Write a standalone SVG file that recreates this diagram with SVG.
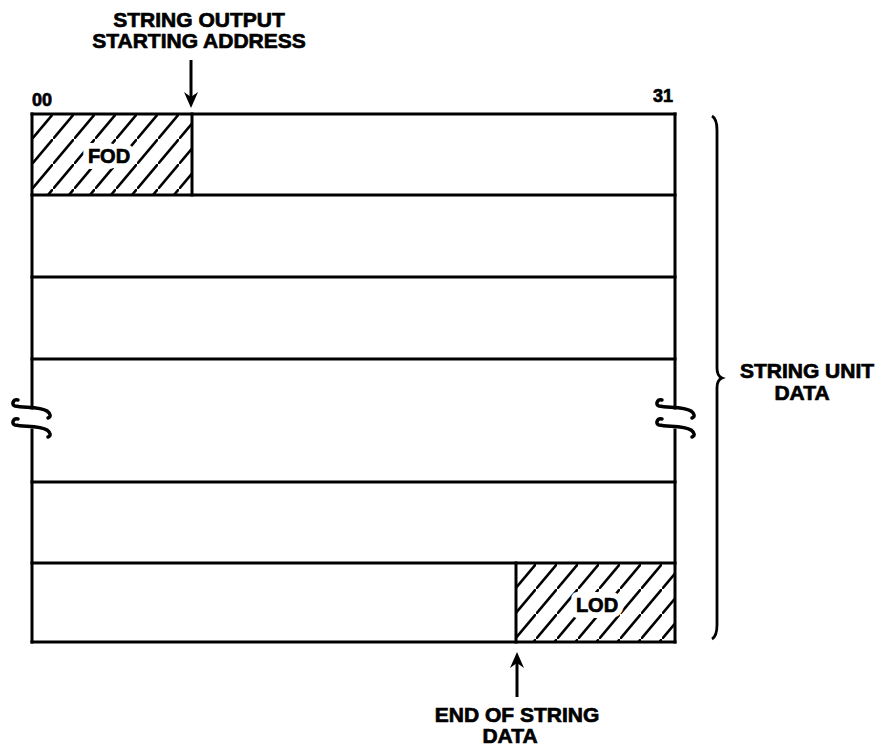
<svg xmlns="http://www.w3.org/2000/svg" width="880" height="747" viewBox="0 0 880 747">
<style>
.ln{stroke:#000;stroke-width:3;fill:none;stroke-linecap:square}
.t{font-family:"Liberation Sans",Arial,sans-serif;font-weight:bold;fill:#000;stroke:#000;stroke-width:0.7}
.halo{font-family:"Liberation Sans",Arial,sans-serif;font-weight:bold;fill:#fff;stroke:#fff;stroke-width:12;stroke-linejoin:round}
.tl{stroke:#000;stroke-width:3.5;fill:none;stroke-linecap:round}
.ar{stroke:#000;stroke-width:3;fill:none}
</style>
<defs>
<pattern id="hatch" patternUnits="userSpaceOnUse" width="21" height="25" x="32" y="114">
<path d="M-5.25,31.25 L26.25,-6.25" stroke="#000" stroke-width="2.6"/>
</pattern>
<path id="tilde" d="M 6,-4 C 1,-5 -1,1 3,2 C 12,4 28,2 35,7 C 39,10 39,13 36,14"/>
<path id="headDown" d="M0,0 L-7,-16 L0,-11 L7,-16 Z"/>
</defs>
<rect width="880" height="747" fill="#fff"/>

<g id="row1">
<rect x="32" y="114" width="160" height="81" fill="url(#hatch)"/>
<line class="ln" x1="192" y1="114" x2="192" y2="195"/>
<text class="halo" x="109" y="163" font-size="20" text-anchor="middle">FOD</text>
<text class="t" x="109" y="163" font-size="20" text-anchor="middle">FOD</text>
</g>
<g id="row2"><line class="ln" x1="32" y1="195" x2="675" y2="195"/></g>
<g id="row3"><line class="ln" x1="32" y1="277" x2="675" y2="277"/></g>
<g id="row4"><line class="ln" x1="32" y1="359" x2="675" y2="359"/></g>
<g id="row5"><line class="ln" x1="32" y1="482" x2="675" y2="482"/></g>
<g id="row6">
<line class="ln" x1="32" y1="563" x2="675" y2="563"/>
<rect x="516" y="563" width="159" height="79" fill="url(#hatch)"/>
<line class="ln" x1="516" y1="563" x2="516" y2="642"/>
<text class="halo" x="597" y="612" font-size="20" text-anchor="middle">LOD</text>
<text class="t" x="597" y="612" font-size="20" text-anchor="middle">LOD</text>
</g>

<g id="frame">
<line class="ln" x1="32" y1="114" x2="675" y2="114"/>
<line class="ln" x1="32" y1="642" x2="675" y2="642"/>
<line class="ln" x1="32" y1="114" x2="32" y2="408"/>
<line class="ln" x1="32" y1="430" x2="32" y2="642"/>
<line class="ln" x1="675" y1="114" x2="675" y2="408"/>
<line class="ln" x1="675" y1="430" x2="675" y2="642"/>
<use href="#tilde" class="tl" transform="translate(12,404)"/>
<use href="#tilde" class="tl" transform="translate(12,423)"/>
<use href="#tilde" class="tl" transform="translate(656,404)"/>
<use href="#tilde" class="tl" transform="translate(656,423)"/>
</g>

<g id="brace">
<path d="M712,116 Q717,119 717,130 L717,368 Q717,376 722,378 Q717,380 717,388 L717,625 Q717,636 712,639" stroke="#000" stroke-width="2.8" fill="none"/>
</g>

<g id="connectors">
<line class="ar" x1="191" y1="60" x2="191" y2="100"/>
<use href="#headDown" transform="translate(191,108)"/>
<line class="ar" x1="517" y1="697" x2="517" y2="660"/>
<use href="#headDown" transform="translate(517,652) rotate(180)"/>
</g>

<g id="labels">
<text class="t" x="199" y="27" font-size="21" text-anchor="middle">STRING OUTPUT</text>
<text class="t" x="199" y="48" font-size="21" text-anchor="middle">STARTING ADDRESS</text>
<text class="t" x="32" y="106" font-size="18">00</text>
<text class="t" x="673" y="102" font-size="18" text-anchor="end">31</text>
<text class="t" x="807" y="378" font-size="21" text-anchor="middle">STRING UNIT</text>
<text class="t" x="802" y="400" font-size="21" text-anchor="middle">DATA</text>
<text class="t" x="517" y="722" font-size="21" text-anchor="middle">END OF STRING</text>
<text class="t" x="510" y="743" font-size="21" text-anchor="middle">DATA</text>
</g>
</svg>
